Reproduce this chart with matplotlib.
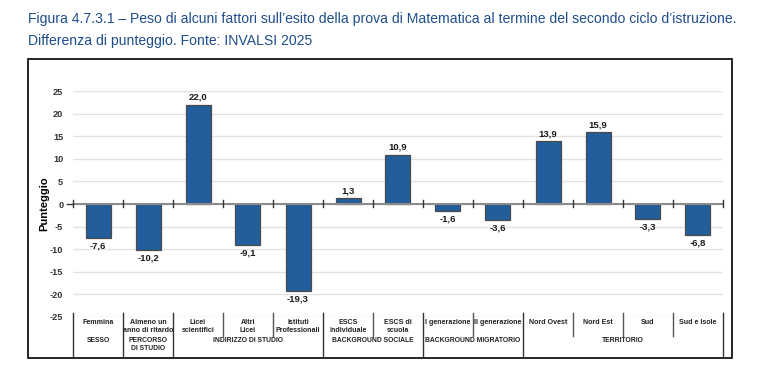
import numpy as np
import matplotlib
matplotlib.use("Agg")
import matplotlib.pyplot as plt
from matplotlib.patches import Rectangle
from matplotlib.lines import Line2D

# data
categories = ["Femmina", "Almeno un\nanno di ritardo", "Licei\nscientifici", "Altri\nLicei",
              "Istituti\nProfessionali", "ESCS\nindividuale", "ESCS di\nscuola", "I generazione",
              "II generazione", "Nord Ovest", "Nord Est", "Sud", "Sud e Isole"]
values = [-7.6, -10.2, 22.0, -9.1, -19.3, 1.3, 10.9, -1.6, -3.6, 13.9, 15.9, -3.3, -6.8]
groups = ["SESSO", "PERCORSO\nDI STUDIO", "INDIRIZZO DI STUDIO", "BACKGROUND SOCIALE",
          "BACKGROUND MIGRATORIO", "TERRITORIO"]
group_sizes = [1, 1, 3, 2, 2, 4]
yticks = [25, 20, 15, 10, 5, 0, -5, -10, -15, -20, -25]

plt.rcParams['font.family'] = ['Liberation Sans', 'DejaVu Sans']

W, H = 770, 385
fig = plt.figure(figsize=(W / 100, H / 100), dpi=100)

# axes placement in pixels: x 73..723, y 91..317
ax = fig.add_axes([73 / W, 1 - 317 / H, 650 / W, 226 / H])

x = np.arange(len(values))
ax.bar(x, values, width=0.5, color='#215E9B', edgecolor='#4a4a4a', linewidth=0.9, zorder=3)

for xi, v in zip(x, values):
    lab = f"{v:.1f}".replace('.', ',')
    if v >= 0:
        ax.annotate(lab, (xi, v), xytext=(0, 2), textcoords='offset points',
                    ha='center', va='bottom', fontsize=6.8, fontweight='bold', color='#1a1a1a')
    else:
        ax.annotate(lab, (xi, v), xytext=(0, -2.5), textcoords='offset points',
                    ha='center', va='top', fontsize=6.8, fontweight='bold', color='#1a1a1a')

ax.set_xlim(-0.5, len(values) - 0.5)
ax.set_ylim(-25, 25)
ax.set_yticks(yticks)
ax.set_yticklabels([str(t) for t in yticks], fontsize=6.6, fontweight='bold', color='#333333')
ax.tick_params(axis='y', length=0, pad=7)
ax.set_xticks([])
for s in ax.spines.values():
    s.set_visible(False)
ax.grid(axis='y', color='#e2e2e2', linewidth=1, zorder=0)
ax.axhline(0, color='#8c8c8c', linewidth=1.5, zorder=4)
# small marks on the zero line at the category boundaries
for b in np.arange(-0.5, len(values), 1):
    ax.plot([b, b], [-0.6, 0.9], color='#333333', linewidth=1, zorder=4, clip_on=False)
ax.plot([-0.5, -0.62], [0, 0], color='#333333', linewidth=1, clip_on=False)

ax.set_ylabel("Punteggio", fontsize=8, fontweight='bold')
ax.yaxis.set_label_coords(-0.036, 0.5)

# category / group table under the plot
tr = ax.get_xaxis_transform()
def yfrac(px):
    return (317 - px) / 226.0

for xi, c in zip(x, categories):
    ax.text(xi, yfrac(319.5), c, transform=tr, ha='center', va='top', fontsize=5.1,
            fontweight='bold', color='#222222', linespacing=1.1)

bounds = np.concatenate([[0], np.cumsum(group_sizes)])
group_edges = set(bounds.tolist())
for b in range(len(values) + 1):
    bottom = 356 if b in group_edges else 336
    col = '#333333' if b in group_edges else '#555555'
    ax.add_line(Line2D([b - 0.5, b - 0.5], [yfrac(313), yfrac(bottom)], transform=tr,
                       color=col, linewidth=1, clip_on=False))

for g, a, bnd in zip(groups, bounds[:-1], bounds[1:]):
    ax.text((a + bnd - 1) / 2, yfrac(337.5), g, transform=tr, ha='center', va='top',
            fontsize=4.9, fontweight='bold', color='#222222', linespacing=1.2)

# frame around the chart
fig.patches.append(Rectangle((28 / W, 1 - 358 / H), 704 / W, 299 / H, transform=fig.transFigure,
                             fill=False, edgecolor='black', linewidth=1.2))

fig.text(28 / W, 1 - 19 / H, "Figura 4.7.3.1 – Peso di alcuni fattori sull’esito della prova di "
         "Matematica al termine del secondo ciclo d’istruzione.", fontsize=10.1,
         color='#1F4E8C', va='center', ha='left')
fig.text(28 / W, 1 - 41 / H, "Differenza di punteggio. Fonte: INVALSI 2025", fontsize=10.1,
         color='#1F4E8C', va='center', ha='left')

fig.savefig("out.png", dpi=100)
